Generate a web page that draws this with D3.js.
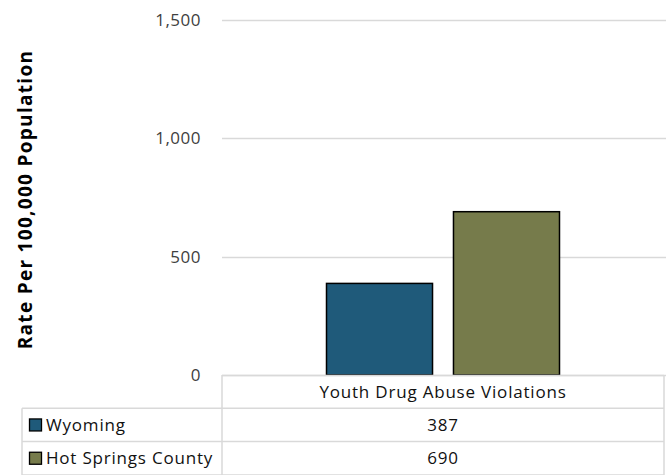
<!DOCTYPE html>
<html><head><meta charset="utf-8">
<script src="https://cdn.jsdelivr.net/npm/d3@7"></script>
<style>body{margin:0;background:#fff}svg{display:block;font-family:"Open Sans",sans-serif}</style>
</head><body><div id="chart"></div>
<script>
const categories = ["Youth Drug Abuse Violations"];
const seriesNames = ["Wyoming", "Hot Springs County"];
const wyomingValues = [387];
const hotSpringsValues = [690];
const seriesColors = ["#1f5a7a", "#767b4b"];
const yTicks = [0, 500, 1000, 1500];
const yTitle = "Rate Per 100,000 Population";

(function () {
const W = 672, H = 475;
const pLeft = 222, pRight = 664, pTop = 20, pBottom = 375;
const svg = d3.select("#chart").append("svg").attr("width", W).attr("height", H);

const y = d3.scaleLinear().domain([0, 1500]).range([pBottom, pTop]);
const x0 = d3.scaleBand().domain(categories).range([pLeft, pRight]);
const x1 = d3.scaleBand().domain(seriesNames).range([0, x0.bandwidth()]).paddingInner(0.165).paddingOuter(0.823);

svg.append("g").selectAll("line").data(yTicks).join("line")
  .attr("x1", pLeft).attr("x2", pRight + 2)
  .attr("y1", d => Math.round(y(d)) + 0.5).attr("y2", d => Math.round(y(d)) + 0.5)
  .attr("stroke", "#d9d9d9").attr("stroke-width", 1.5);

const fmt = d3.format(",");
svg.append("g").selectAll("text").data(yTicks).join("text")
  .attr("x", 201).attr("y", d => y(d)).attr("dy", "0.35em")
  .attr("text-anchor", "end").attr("font-size", 17).attr("letter-spacing", 0.5).attr("fill", "#404040")
  .text(d => fmt(d));

svg.append("text").attr("transform", `translate(32,${(pTop + pBottom) / 2 + 2}) rotate(-90)`)
  .attr("text-anchor", "middle").attr("font-size", 19).attr("letter-spacing", 1.3).attr("font-weight", "bold").attr("fill", "#000")
  .text(yTitle);

const seriesData = [wyomingValues, hotSpringsValues];
categories.forEach((c, ci) => {
  seriesNames.forEach((s, si) => {
    const v = seriesData[si][ci];
    svg.append("rect")
      .attr("x", x0(c) + x1(s)).attr("width", x1.bandwidth())
      .attr("y", y(v)).attr("height", y(0) - y(v))
      .attr("fill", seriesColors[si]).attr("stroke", "#000").attr("stroke-width", 1.5);
  });
});

const tableLeft = 22, rowH = 33.3;
const g = svg.append("g");
const lc = "#d9d9d9";
g.append("line").attr("x1", pLeft).attr("x2", pRight).attr("y1", pBottom + 0.5).attr("y2", pBottom + 0.5).attr("stroke", lc).attr("stroke-width", 1.5);
for (let i = 1; i <= 3; i++) {
  const yy = pBottom + i * rowH;
  g.append("line").attr("x1", tableLeft).attr("x2", pRight).attr("y1", yy).attr("y2", yy).attr("stroke", lc).attr("stroke-width", 1.5);
}
g.append("line").attr("x1", pLeft).attr("x2", pLeft).attr("y1", pBottom).attr("y2", H).attr("stroke", lc).attr("stroke-width", 1.5);
g.append("line").attr("x1", pRight).attr("x2", pRight).attr("y1", pBottom).attr("y2", H).attr("stroke", lc).attr("stroke-width", 1.5);
g.append("line").attr("x1", tableLeft).attr("x2", tableLeft).attr("y1", pBottom + rowH).attr("y2", H).attr("stroke", lc).attr("stroke-width", 1.5);

const tfs = 17, tls = 0.8;
categories.forEach(c => {
  g.append("text").attr("x", x0(c) + x0.bandwidth() / 2).attr("y", pBottom + rowH / 2).attr("dy", "0.35em")
    .attr("text-anchor", "middle").attr("font-size", tfs).attr("letter-spacing", tls).attr("fill", "#111").text(c);
});
seriesNames.forEach((s, si) => {
  const cy = pBottom + rowH * (si + 1) + rowH / 2;
  g.append("rect").attr("x", 29.5).attr("y", cy - 6).attr("width", 12).attr("height", 12)
    .attr("fill", seriesColors[si]).attr("stroke", "#000").attr("stroke-width", 1.3);
  g.append("text").attr("x", 46).attr("y", cy).attr("dy", "0.35em")
    .attr("font-size", tfs).attr("letter-spacing", tls).attr("fill", "#111").text(s);
  categories.forEach((c, ci) => {
    g.append("text").attr("x", x0(c) + x0.bandwidth() / 2).attr("y", cy).attr("dy", "0.35em")
      .attr("text-anchor", "middle").attr("font-size", tfs).attr("letter-spacing", tls).attr("fill", "#111").text(fmt(seriesData[si][ci]));
  });
});
})();
</script></body></html>
